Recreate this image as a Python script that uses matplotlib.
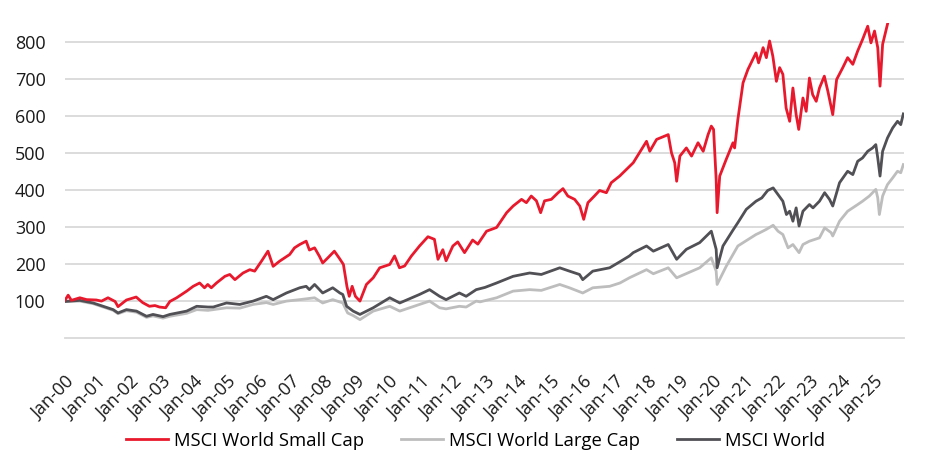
import numpy as np
import matplotlib
matplotlib.use("Agg")
import matplotlib.pyplot as plt

plt.rcParams['font.family'] = ['Open Sans', 'DejaVu Sans']

# series, indexed to 100, x as decimal years
small_t = [2000.08, 2000.18, 2000.28, 2000.54, 2000.75, 2001.05, 2001.21, 2001.41, 2001.63, 2001.72,
           2001.98, 2002.28, 2002.48, 2002.69, 2002.86, 2003.00, 2003.19, 2003.32, 2003.53, 2003.84,
           2004.04, 2004.24, 2004.39, 2004.49, 2004.60, 2004.76, 2005.02, 2005.17, 2005.33, 2005.58,
           2005.79, 2005.94, 2006.15, 2006.35, 2006.51, 2006.71, 2007.02, 2007.17, 2007.33, 2007.53,
           2007.63, 2007.79, 2007.94, 2008.04, 2008.20, 2008.40, 2008.56, 2008.68, 2008.79, 2008.86,
           2008.95, 2009.05, 2009.19, 2009.39, 2009.60, 2009.80, 2010.11, 2010.26, 2010.41, 2010.57,
           2010.78, 2011.03, 2011.29, 2011.49, 2011.60, 2011.75, 2011.85, 2012.06, 2012.21, 2012.42,
           2012.67, 2012.83, 2013.10, 2013.41, 2013.72, 2013.92, 2014.18, 2014.33, 2014.48, 2014.64,
           2014.77, 2014.89, 2015.10, 2015.31, 2015.46, 2015.61, 2015.82, 2015.98, 2016.10, 2016.23,
           2016.43, 2016.59, 2016.80, 2016.95, 2017.21, 2017.51, 2017.63, 2018.04, 2018.14, 2018.35,
           2018.71, 2018.81, 2018.91, 2018.97, 2019.07, 2019.27, 2019.43, 2019.63, 2019.79, 2019.94,
           2020.04, 2020.11, 2020.19, 2020.22, 2020.30, 2020.50, 2020.71, 2020.76, 2020.86, 2021.02,
           2021.17, 2021.27, 2021.42, 2021.50, 2021.64, 2021.74, 2021.84, 2021.94, 2022.05, 2022.15,
           2022.25, 2022.35, 2022.46, 2022.56, 2022.66, 2022.74, 2022.87, 2022.97, 2023.07, 2023.17,
           2023.28, 2023.38, 2023.53, 2023.64, 2023.79, 2023.91, 2024.10, 2024.25, 2024.41, 2024.56,
           2024.71, 2024.87, 2024.97, 2025.08, 2025.18, 2025.25, 2025.33, 2025.49, 2025.75, 2025.97]
small_v = [103, 117, 103, 110, 105, 104, 101, 110, 100, 86,
           104, 112, 97, 87, 89, 85, 83, 100, 110, 128,
           141, 150, 137, 146, 137, 150, 168, 173, 159, 177,
           186, 182, 209, 236, 195, 209, 227, 245, 254, 263,
           239, 245, 222, 204, 218, 236, 216, 200, 140, 114,
           141, 114, 101, 146, 164, 191, 200, 223, 191, 196,
           223, 250, 275, 268, 214, 240, 210, 250, 261, 232,
           266, 255, 290, 300, 340, 358, 376, 367, 385, 372,
           340, 372, 376, 394, 405, 385, 376, 358, 322, 367,
           385, 400, 394, 421, 439, 465, 475, 533, 506, 538,
           551, 502, 475, 425, 493, 515, 493, 529, 506, 551,
           574, 565, 430, 340, 439, 484, 529, 515, 592, 691,
           727, 745, 772, 745, 786, 759, 804, 763, 695, 732,
           714, 623, 587, 677, 605, 565, 650, 614, 704, 659,
           641, 677, 709, 668, 605, 700, 732, 759, 741, 777,
           808, 844, 799, 831, 786, 682, 795, 853, 900, 925]

large_t = [2000.08, 2000.54, 2000.95, 2001.26, 2001.57, 2001.72, 2001.98, 2002.29, 2002.60, 2002.80,
           2003.11, 2003.32, 2003.84, 2004.15, 2004.50, 2005.07, 2005.48, 2005.89, 2006.30, 2006.51,
           2006.92, 2007.33, 2007.79, 2008.04, 2008.35, 2008.66, 2008.81, 2008.98, 2009.19, 2009.60,
           2010.11, 2010.42, 2011.03, 2011.34, 2011.65, 2011.85, 2012.26, 2012.47, 2012.78, 2012.90,
           2013.41, 2013.92, 2014.43, 2014.79, 2015.36, 2015.66, 2016.07, 2016.38, 2016.90, 2017.22,
           2017.51, 2018.04, 2018.25, 2018.71, 2018.97, 2019.68, 2020.04, 2020.19, 2020.22, 2020.50,
           2020.86, 2021.42, 2021.54, 2021.74, 2021.95, 2022.10, 2022.25, 2022.41, 2022.56, 2022.75,
           2022.87, 2023.07, 2023.38, 2023.54, 2023.74, 2023.79, 2024.00, 2024.25, 2024.56, 2024.71,
           2024.92, 2025.12, 2025.18, 2025.23, 2025.33, 2025.48, 2025.64, 2025.79, 2025.89, 2025.97]
large_v = [100, 101, 94, 85, 76, 67, 75, 71, 57, 61,
           55, 60, 68, 78, 76, 83, 82, 92, 97, 92,
           101, 105, 110, 96, 105, 96, 69, 62, 51, 74,
           87, 74, 92, 101, 83, 80, 87, 85, 101, 99,
           110, 128, 132, 130, 146, 137, 123, 137, 141, 150,
           164, 186, 175, 191, 164, 191, 218, 182, 146, 195,
           250, 281, 286, 295, 306, 290, 281, 245, 254, 232,
           254, 263, 272, 299, 286, 277, 317, 344, 362, 371,
           385, 403, 380, 335, 385, 416, 434, 452, 448, 470]

world_t = [2000.08, 2000.54, 2000.95, 2001.26, 2001.57, 2001.72, 2001.98, 2002.29, 2002.60, 2002.80,
           2003.11, 2003.32, 2003.84, 2004.15, 2004.50, 2004.66, 2005.07, 2005.48, 2005.89, 2006.30,
           2006.51, 2006.92, 2007.33, 2007.53, 2007.63, 2007.79, 2008.04, 2008.35, 2008.57, 2008.66,
           2008.78, 2008.98, 2009.19, 2009.60, 2010.11, 2010.42, 2011.03, 2011.34, 2011.65, 2011.85,
           2012.26, 2012.47, 2012.78, 2013.05, 2013.41, 2013.92, 2014.43, 2014.79, 2015.36, 2015.66,
           2015.97, 2016.07, 2016.38, 2016.90, 2017.21, 2017.51, 2017.63, 2018.04, 2018.25, 2018.71,
           2018.97, 2019.27, 2019.68, 2020.04, 2020.19, 2020.22, 2020.40, 2020.71, 2020.86, 2021.12,
           2021.42, 2021.60, 2021.78, 2021.95, 2022.10, 2022.25, 2022.36, 2022.46, 2022.56, 2022.66,
           2022.75, 2022.87, 2023.07, 2023.18, 2023.38, 2023.54, 2023.69, 2023.79, 2024.00, 2024.25,
           2024.41, 2024.56, 2024.71, 2024.87, 2025.02, 2025.12, 2025.18, 2025.25, 2025.33, 2025.48,
           2025.64, 2025.79, 2025.89, 2025.97]
world_v = [100, 103, 96, 87, 78, 69, 78, 74, 60, 65,
           59, 65, 74, 87, 85, 85, 96, 92, 101, 114,
           105, 123, 137, 141, 132, 146, 123, 137, 123, 119,
           87, 74, 65, 83, 110, 96, 119, 132, 114, 105,
           123, 114, 132, 138, 150, 168, 177, 173, 191, 182,
           173, 159, 182, 191, 207, 223, 232, 250, 236, 254,
           214, 241, 259, 290, 241, 191, 250, 293, 313, 349,
           371, 380, 400, 407, 389, 371, 335, 344, 317, 353,
           304, 344, 362, 353, 371, 394, 376, 358, 421, 452,
           443, 479, 488, 506, 515, 524, 488, 439, 506, 542,
           569, 587, 578, 607]

labels = ["MSCI World Small Cap", "MSCI World Large Cap", "MSCI World"]
years = list(range(2000, 2026))
tick_labels = ["Jan-%02d" % (y % 100) for y in years]

fig = plt.figure(figsize=(9.45, 4.73), dpi=100)
ax = fig.add_axes([0.0688, 0.2844, 0.8878, 0.668])

l2, = ax.plot(large_t, large_v, color="#BDBDBD", lw=2.0, label=labels[1])
l3, = ax.plot(world_t, world_v, color="#505055", lw=2.0, label=labels[2])
l1, = ax.plot(small_t, small_v, color="#E8192C", lw=2.0, label=labels[0])

ax.set_xlim(2000.083, 2025.99)
ax.set_ylim(0, 854)
ax.set_yticks(range(100, 900, 100))
ax.yaxis.grid(True, color="#D9D9D9", lw=1.3)
ax.set_axisbelow(True)
for s in ["top", "right", "left"]:
    ax.spines[s].set_visible(False)
ax.spines["bottom"].set_color("#D9D9D9")
ax.spines["bottom"].set_linewidth(1.3)

ax.set_xticks([y + 0.083 for y in years])
ax.set_xticklabels(tick_labels, rotation=45, ha="right", va="top", rotation_mode="anchor")
ax.tick_params(axis="both", length=0, labelsize=13, colors="#1a1a1a")
ax.tick_params(axis="y", pad=14)
ax.tick_params(axis="x", pad=25)

ax.legend([l1, l2, l3], labels, loc="center", bbox_to_anchor=(0.489, -0.324), ncol=3,
          frameon=False, fontsize=13.3, handlelength=2.3, handletextpad=0.3, columnspacing=2.0)

fig.savefig("out.png", dpi=100)
